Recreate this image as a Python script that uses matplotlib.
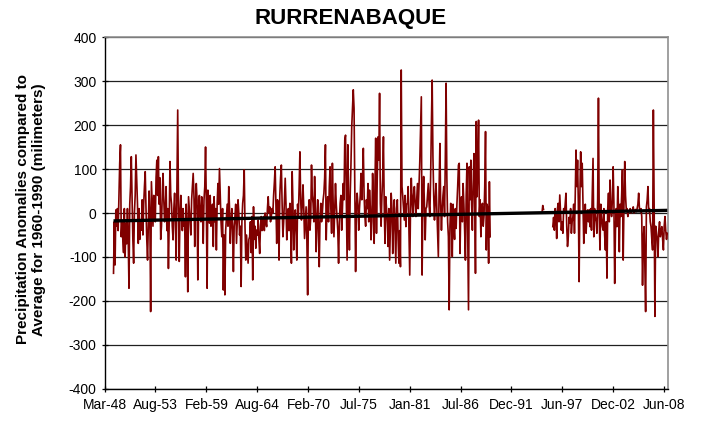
import matplotlib
matplotlib.use('Agg')
import matplotlib.pyplot as plt
import numpy as np

# monthly precipitation anomalies (mm)
# segment 1 starts Feb-49
seg1_start = (1949, 2)
seg1 = [
    -137, -20, -118, 7, -30, 10, -40, 40, 113, 155, -54, -20,
    -60, -90, 10, -100, -23, -70, 10, -60, -171, 20, 60, 128,
    30, -60, -114, 0, 40, 132, 75, 20, -69, 10, -60, -20,
    -39, 30, -50, 20, 60, 94, 10, -60, -107, -30, 50, -10,
    -224, 71, 20, -30, 40, 20, -20, 80, 120, 40, 128, 20,
    80, -60, -30, 40, 90, 30, -20, 7, 60, -40, 10, -126,
    -20, 117, 40, 20, -30, -61, 10, 45, -20, -107, 60, 234,
    20, -110, 0, 40, -8, -40, 10, -30, -20, -145, 20, -40,
    -179, 37, 10, -20, -50, 30, 60, 90, 40, -76, 20, 67,
    30, -152, 10, 40, -8, -20, 37, 10, -69, 30, 60, 150,
    20, -171, 52, 10, -23, 40, -30, -8, 20, -76, 37, -20,
    10, -84, 20, 67, 20, 101, 40, -20, -54, 10, -175, -50,
    -186, -40, -8, 20, -30, 60, 10, -69, -20, 10, -40, -133,
    -30, -8, 20, -69, -20, 30, 0, -50, -30, -167, -20, 22,
    40, 98, -30, -107, -50, -80, -114, -60, -54, -20, -90, -8,
    -152, 14, -60, -30, -80, -39, -50, -16, -60, -92, -30, -8,
    -40, -20, -8, -40, 0, -20, -31, 10, 37, 0, 14, -20,
    -8, 10, 0, 40, 70, 105, 20, -69, 30, 22, -107, 40,
    80, 109, 20, -54, -20, 30, 79, 20, -61, -31, 10, -40,
    22, -30, -114, 94, 20, -84, -30, 7, -40, -107, 20, -8,
    60, 139, 30, -16, 20, 64, 10, -58, -20, 14, -60, -186,
    7, 30, -39, -10, 109, 40, 22, -20, 83, 10, -88, -20,
    30, -40, -122, -10, 22, -20, 0, 30, 45, 80, 155, -61,
    10, 37, -20, 60, 105, 10, -46, 113, 20, -54, 10, 67,
    20, -8, -40, -114, -20, 22, 40, -39, 10, 67, 30, 166,
    177, 40, -107, 155, 10, -84, 40, 110, 196, 240, 280, 238,
    60, -133, 10, 45, 20, -39, 10, 40, 90, 30, 80, 147,
    40, -8, -30, 30, 10, 67, -20, 52, 14, -61, -20, 90,
    30, -69, 60, 170, -46, 80, 173, 120, 272, 22, -30, 37,
    80, 173, 20, -69, 37, 10, -23, -76, 10, -107, -30, 45,
    10, -92, -20, 30, -40, -114, 10, 30, -60, -114, -40, -122,
    325, 60, 37, 10, -16, 40, -31, 20, 22, 60, -40, -141,
    10, 79, 30, -8, 40, 60, 20, -8, 30, 67, 10, 60,
    117, 190, 264, -141, 30, 83, 20, -61, 10, 14, 40, 67,
    20, -8, 80, 200, 302, 128, 40, -16, 30, 67, 10, -40,
    -99, 60, 158, 20, -39, 10, 40, 60, -8, 120, 295, 80,
    -20, -54, -220, -30, 22, -20, -99, 20, -31, -60, 10, -35,
    20, 60, 109, 113, -92, 10, 37, -20, 67, 20, -39, -107,
    40, 113, -60, -220, 105, 30, 120, 20, -39, 60, 135, 40,
    -137, 208, 37, 100, 211, -8, 30, -54, 10, 22, -30, -8,
    60, 185, -84, 20, 7, -114, 71, -54,
]

seg2_start = (1995, 4)
seg2 = [0, 17, 8]

seg3_start = (1996, 6)
seg3 = [
    -31, -10, -39, 10, -8, -58, 10, 22, -20, 41, 0, -39,
    -20, -46, 10, 0, 20, 45, -30, -76, -54, -10, -23, 10,
    -46, -20, -8, 20, -46, 40, 143, 60, 120, 22, -156, 40,
    139, 60, 113, 20, -69, -8, 20, -46, -10, 7, -20, 7,
    -31, 10, -39, 40, 124, -54, 10, -8, -20, -46, 30, 261,
    -8, -84, 20, -8, -30, -39, 10, -50, -84, -20, -148, 10,
    45, -20, 75, 10, -8, 30, 105, 20, -160, -40, 10, -31,
    60, 10, -88, 20, -8, 40, 98, -107, 20, 117, 40, 7,
    10, -8, 5, 3, 10, 0, 3, 8, 14, 0, 3, 8,
    3, 10, 20, 45, 10, 3, 10, -8, -164, -60, -31, -120,
    -224, 14, 30, 60, 3, 10, -20, -31, -60, -84, 234, 20,
    -235, -30, -46, -60, -99, -39, -20, -54, -40, -31, -60, -84,
    -30, -8, -40, -60, -46,
]

# linear trend as drawn on the chart (value at first and last month)
trend_start = -18
trend_end = 6

tick_dates = [(1948, 3), (1953, 8), (1959, 2), (1964, 8), (1970, 2), (1975, 7),
              (1981, 1), (1986, 7), (1991, 12), (1997, 6), (2002, 12), (2008, 6)]
month_names = ['Jan', 'Feb', 'Mar', 'Apr', 'May', 'Jun',
               'Jul', 'Aug', 'Sep', 'Oct', 'Nov', 'Dec']


def month_index(date):
    # months counted from Mar-48
    y, m = date
    return (y - 1948) * 12 + (m - 3)


plt.rcParams['font.family'] = ['Liberation Sans', 'DejaVu Sans']
plt.rcParams['axes.unicode_minus'] = False

fig = plt.figure(figsize=(7.01, 4.23), dpi=100)
ax = fig.add_axes([0.1498, 0.0804, 0.8032, 0.8321])

red = '#800000'
first_x, last_x = None, None
for start, vals in [(seg1_start, seg1), (seg2_start, seg2), (seg3_start, seg3)]:
    x = month_index(start) + np.arange(len(vals))
    ax.plot(x, vals, color=red, lw=1.2, zorder=3)
    if first_x is None:
        first_x = x[0]
    last_x = x[-1]

ax.plot([first_x, last_x], [trend_start, trend_end], color='black', lw=2.4,
        zorder=4, solid_capstyle='butt')

ax.set_ylim(-400, 400)
ax.set_yticks(range(-400, 401, 100))
ax.set_xlim(0, 728)
ax.set_xticks([month_index(d) for d in tick_dates])
ax.set_xticklabels(['%s-%02d' % (month_names[m - 1], y % 100) for y, m in tick_dates])

ax.grid(axis='y', color='#202020', lw=0.9)
ax.set_axisbelow(True)
for side in ['top', 'right']:
    ax.spines[side].set_color('#909090')
    ax.spines[side].set_linewidth(1.2)
for side in ['left', 'bottom']:
    ax.spines[side].set_color('black')
    ax.spines[side].set_linewidth(1.0)
ax.tick_params(axis='both', direction='inout', length=5, width=0.9, labelsize=10)
ax.tick_params(axis='x', pad=4)

ax.set_ylabel('Precipitation Anomalies compared to\nAverage for 1960-1990 (milimeters)',
              fontsize=11, fontweight='bold', linespacing=1.15)
ax.yaxis.set_label_coords(-0.105, 0.51)

fig.text(0.5, 0.957, 'RURRENABAQUE', ha='center', va='center',
         fontsize=16, fontweight='bold')

fig.savefig('out.png', dpi=100)
